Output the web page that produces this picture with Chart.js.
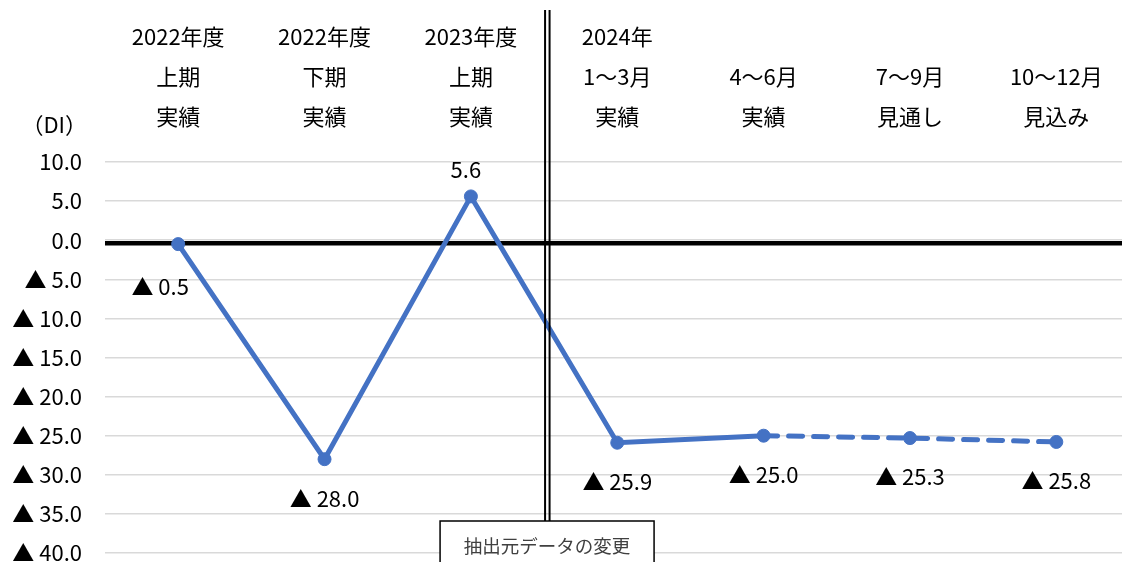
<!DOCTYPE html>
<html lang="ja">
<head>
<meta charset="utf-8">
<script src="https://cdn.jsdelivr.net/npm/chart.js@4.4.1/dist/chart.umd.min.js"></script>
<style>
	html, body { margin: 0; padding: 0; background: #fff; overflow: hidden; }
	#di { display: block; }
</style>
</head>
<body>
<canvas id="di" width="1137" height="562"></canvas>
<script>
// 期間ラベル（3段、空きは上段）
var periods = [
	['2022年度', '上期', '実績'],
	['2022年度', '下期', '実績'],
	['2023年度', '上期', '実績'],
	['2024年', '1～3月', '実績'],
	['', '4～6月', '実績'],
	['', '7～9月', '見通し'],
	['', '10～12月', '見込み']
];
var diValues = [-0.5, -28.0, 5.6, -25.9, -25.0, -25.3, -25.8];
var yMin = -40, yMax = 10, yStep = 5;
var unitLabel = '（DI）';
var changeNote = '抽出元データの変更';

var FONT = '"Noto Sans CJK JP", "Noto Sans", sans-serif';
var BLUE = '#4472c4';

function fmt(v) {
	return v < 0 ? '▲ ' + (-v).toFixed(1) : v.toFixed(1);
}

// 軸の余白を自前で決めるので、ラベル分の自動パディングは消す
function noPad(s) {
	s.paddingTop = s.paddingBottom = s.paddingLeft = s.paddingRight = 0;
}

// 値ラベル: 点からのずれ（先頭は左下、山は上、他は下）
var labelShift = function(i) {
	if (i === 0) return [-18, 43];
	if (diValues[i] > 0) return [-5, -27];
	return [0, 39];
};

var decorations = {
	id: 'decorations',
	beforeDatasetsDraw: function(chart) {
		var ctx = chart.ctx, area = chart.chartArea, y = chart.scales.y;
		// ゼロの太線
		var y0 = y.getPixelForValue(0) + 3;
		ctx.save();
		ctx.strokeStyle = '#000';
		ctx.lineWidth = 4.5;
		ctx.beginPath();
		ctx.moveTo(area.left, y0);
		ctx.lineTo(area.right, y0);
		ctx.stroke();
		ctx.restore();
	},
	afterDraw: function(chart) {
		var ctx = chart.ctx, area = chart.chartArea, x = chart.scales.x;
		var meta = chart.getDatasetMeta(0);
		ctx.save();

		// 単位
		ctx.font = '22px ' + FONT;
		ctx.fillStyle = '#000';
		ctx.textAlign = 'right';
		ctx.textBaseline = 'middle';
		ctx.fillText(unitLabel, area.left - 18, area.top - 37);

		// 値ラベル
		ctx.textAlign = 'center';
		meta.data.forEach(function(pt, i) {
			var s = labelShift(i);
			ctx.fillText(fmt(diValues[i]), pt.x + s[0], pt.y + s[1]);
		});

		// データ切替の二重線
		var mid = (x.getPixelForValue(2) + x.getPixelForValue(3)) / 2;
		var boxTop = 521;
		ctx.strokeStyle = '#000';
		ctx.lineWidth = 2;
		[mid + 1, mid + 5.5].forEach(function(lx) {
			ctx.beginPath();
			ctx.moveTo(lx, 10);
			ctx.lineTo(lx, boxTop);
			ctx.stroke();
		});

		// 注記の枠
		var bx = mid - 104, bw = 214;
		ctx.fillStyle = '#fff';
		ctx.fillRect(bx, boxTop, bw, 60);
		ctx.lineWidth = 1.5;
		ctx.strokeRect(bx, boxTop, bw, 60);
		ctx.fillStyle = '#404040';
		ctx.font = '18.5px ' + FONT;
		ctx.textAlign = 'center';
		ctx.fillText(changeNote, bx + bw / 2, boxTop + 25);
		ctx.restore();
	}
};

new Chart(document.getElementById('di'), {
	type: 'line',
	data: {
		labels: periods,
		datasets: [{
			data: diValues,
			borderColor: BLUE,
			backgroundColor: BLUE,
			borderWidth: 5,
			pointRadius: 6.5,
			pointBorderWidth: 1,
			pointHoverRadius: 6.5,
			tension: 0,
			fill: false,
			segment: {
				// 見通し・見込みは破線
				borderDash: function(c) { return c.p0DataIndex >= 4 ? [14, 11] : undefined; }
			},
			borderCapStyle: 'round'
		}]
	},
	options: {
		responsive: false,
		animation: false,
		devicePixelRatio: 1,
		layout: { padding: { top: 0, right: 0, bottom: 9, left: 0 } },
		plugins: {
			legend: { display: false },
			tooltip: { enabled: false },
			title: { display: false }
		},
		scales: {
			x: {
				position: 'top',
				offset: true,
				grid: { display: false },
				border: { display: false },
				ticks: {
					color: '#000',
					padding: 17,
					maxRotation: 0,
					autoSkip: false,
					font: { family: FONT, size: 22, lineHeight: 40 / 22 }
				},
				afterFit: function(s) { s.height = 162; noPad(s); }
			},
			y: {
				min: yMin,
				max: yMax,
				grid: { color: '#d9d9d9', lineWidth: 1.5, drawTicks: false },
				border: { display: false },
				ticks: {
					stepSize: yStep,
					color: '#000',
					padding: 23,
					font: { family: FONT, size: 22, lineHeight: 0.8 },
					callback: function(v) { return fmt(v); }
				},
				afterFit: function(s) { s.width = 105; noPad(s); }
			}
		}
	},
	plugins: [decorations]
});
</script>
</body>
</html>
